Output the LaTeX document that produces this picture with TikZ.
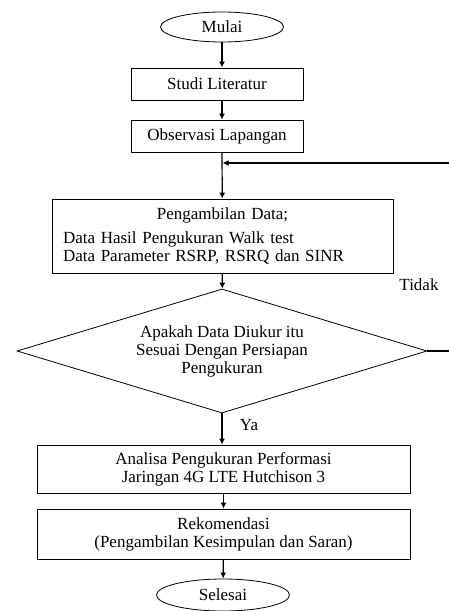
\documentclass[tikz,border=0pt]{standalone}
\usepackage{fontspec}
\setmainfont{Liberation Serif}
\usetikzlibrary{arrows.meta,shapes.geometric}
\tikzset{box/.style={draw,line width=0.8pt,align=center,inner sep=4pt},term/.style={draw,ellipse,line width=0.8pt,inner sep=0pt},decision/.style={draw,diamond,aspect=3.3,line width=0.8pt,inner sep=0pt,align=center},edge/.style={-{Latex[length=6pt,width=6pt]},line width=1.2pt}}
\begin{document}
\begin{tikzpicture}[x=1pt,y=-1pt,font=\fontsize{17}{18}\selectfont]
\useasboundingbox (0,0) rectangle (448,611);
\node[term,minimum width=123pt,minimum height=30pt] (mulai) at (222,27) {Mulai};
\node[box,minimum width=172pt,minimum height=32pt] (studi) at (217,84) {Studi Literatur};
\node[box,minimum width=172pt,minimum height=32pt] (obs) at (217,136) {Observasi Lapangan};
\node[box,minimum width=341pt,minimum height=74pt,text width=319pt,align=left,inner xsep=11pt] (ambil) at (222.5,236)
{\makebox[319pt][c]{Pengambilan Data;}\\[6pt]Data Hasil Pengukuran Walk test\\Data Parameter RSRP, RSRQ dan SINR};
\node[decision,minimum width=410pt,minimum height=124pt] (cek) at (222,351)
{Apakah Data Diukur itu\\Sesuai Dengan Persiapan\\Pengukuran};
\node (tidak) at (419,285) {Tidak};
\node (ya) at (249,425) {Ya};
\node[box,minimum width=373pt,minimum height=48pt] (analisa) at (223.5,469)
{Analisa Pengukuran Performasi\\Jaringan 4G LTE Hutchison 3};
\node[box,minimum width=373pt,minimum height=50pt] (rekom) at (223.5,534)
{Rekomendasi\\(Pengambilan Kesimpulan dan Saran)};
\node[term,minimum width=133pt,minimum height=32pt] (selesai) at (223,595) {Selesai};
\coordinate (balik) at (452,163);
\draw[edge] (mulai) -- (mulai |- studi.north);
\draw[edge] (mulai |- studi.south) -- (mulai |- obs.north);
\draw[edge] (mulai |- obs.south) -- (ambil);
\draw[edge] (ambil) -- (cek);
\draw[edge] (cek.south) -- (cek.south |- analisa.north);
\draw[edge] (analisa) -- (rekom);
\draw[edge] (rekom) -- (selesai);
\draw[edge,shorten >=0.6pt] (cek.east) -| (balik) -- (mulai |- balik);
\end{tikzpicture}
\end{document}
